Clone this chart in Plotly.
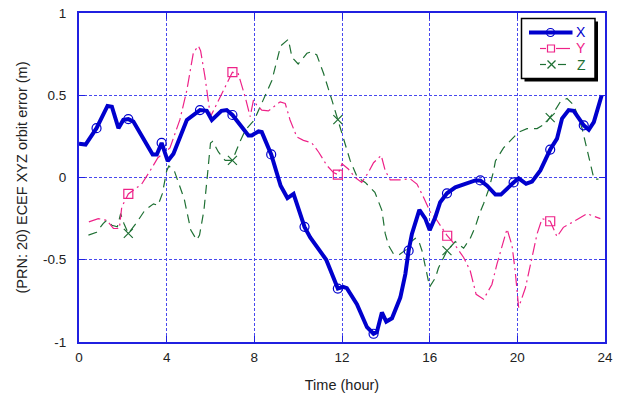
import plotly.graph_objects as go

# ---- ECEF orbit error of PRN 20 over one day (metres) ----
t_x = [0.0, 0.3, 0.8, 1.3, 1.5, 1.8, 2.02, 2.25, 2.48, 3.36, 3.55, 3.77, 4.05, 4.31,
       4.92, 5.52, 5.83, 6.06, 6.5, 6.74, 7.0, 7.35, 7.73, 7.88, 8.19, 8.34, 8.77,
       9.2, 9.51, 9.79, 10.29, 10.55, 11.28, 11.81, 12.05, 12.22, 12.68, 13.14,
       13.44, 13.59, 13.82, 14.02, 14.28, 14.66, 14.89, 15.04, 15.19, 15.53, 15.8,
       16.0, 16.26, 16.48, 16.79, 17.17, 17.7, 18.08, 18.31, 18.62, 19.0, 19.25,
       19.83, 20.06, 20.4, 20.67, 21.05, 21.5, 21.81, 22.04, 22.34, 22.57, 23.03,
       23.26, 23.49, 23.85]
err_x = [0.205, 0.20, 0.30, 0.435, 0.43, 0.30, 0.35, 0.355, 0.34, 0.14, 0.14, 0.21,
         0.10, 0.145, 0.35, 0.41, 0.405, 0.35, 0.405, 0.41, 0.38, 0.317, 0.256, 0.256,
         0.28, 0.276, 0.14, -0.05, -0.125, -0.10, -0.30, -0.364, -0.50, -0.675,
         -0.665, -0.673, -0.77, -0.91, -0.95, -0.94, -0.82, -0.876, -0.856, -0.73,
         -0.587, -0.445, -0.343, -0.197, -0.25, -0.32, -0.24, -0.15, -0.096, -0.06,
         -0.035, -0.018, -0.018, -0.05, -0.104, -0.104, -0.03, -0.005, -0.038,
         -0.025, 0.043, 0.17, 0.236, 0.358, 0.41, 0.405, 0.317, 0.29, 0.337, 0.50]
marks_x = [0.8, 2.25, 3.77, 5.52, 7.0, 8.77, 10.29, 11.81, 13.44, 15.04, 16.79,
           18.31, 19.83, 21.5, 23.03]

t_y = [0.45, 0.88, 1.26, 1.57, 1.84, 1.95, 2.25, 2.86, 3.24, 3.6, 4.15, 4.6, 4.92,
       5.22, 5.45, 5.55, 5.75, 6.0, 7.0, 7.27, 7.58, 7.81, 7.96, 8.11, 8.34, 8.64,
       9.18, 9.41, 9.63, 9.94, 10.24, 10.62, 10.93, 11.31, 11.61, 11.81, 12.0, 12.3,
       12.6, 12.9, 13.2, 13.44, 13.79, 13.97, 14.2, 14.66, 15.11, 15.42, 15.72,
       16.03, 16.33, 16.8, 17.1, 17.55, 17.85, 18.12, 18.46, 18.84, 19.07, 19.53,
       19.76, 19.9, 20.06, 20.37, 20.67, 20.9, 21.13, 21.5, 21.81, 22.1, 22.65,
       23.18, 23.79]
err_y = [-0.27, -0.25, -0.26, -0.31, -0.31, -0.18, -0.10, -0.04, 0.04, 0.12, 0.18,
         0.35, 0.53, 0.76, 0.80, 0.77, 0.61, 0.37, 0.64, 0.63, 0.49, 0.37, 0.47, 0.44,
         0.41, 0.405, 0.46, 0.45, 0.35, 0.246, 0.226, 0.21, 0.155, 0.073, 0.03, 0.018,
         0.083, 0.05, 0.0, -0.03, 0.03, 0.09, 0.134, 0.043, -0.014, -0.014, -0.008,
         -0.04, -0.12, -0.21, -0.26, -0.354, -0.40, -0.486, -0.567, -0.71, -0.74,
         -0.65, -0.526, -0.313, -0.415, -0.567, -0.79, -0.67, -0.486, -0.343, -0.25,
         -0.266, -0.36, -0.303, -0.262, -0.22, -0.25]
marks_y = [2.25, 7.0, 11.81, 16.8, 21.5]

t_z = [0.43, 0.8, 1.1, 1.26, 1.5, 1.75, 1.9, 2.05, 2.25, 2.6, 3.0, 3.4, 3.6, 3.8,
       4.0, 4.1, 4.35, 4.8, 5.1, 5.37, 5.5, 5.7, 5.85, 6.0, 6.1, 6.36, 6.67, 7.0,
       7.35, 7.6, 8.0, 8.4, 8.8, 9.2, 9.55, 9.72, 10.0, 10.4, 10.62, 10.85, 11.16,
       11.54, 11.81, 12.07, 12.37, 12.7, 13.06, 13.5, 13.66, 13.82, 13.97, 14.13,
       14.35, 14.6, 14.96, 15.15, 15.35, 15.5, 15.65, 15.78, 15.9, 16.0, 16.26,
       16.4, 16.79, 17.17, 17.55, 17.85, 18.08, 18.3, 18.46, 18.7, 18.9, 19.0,
       19.37, 19.68, 20.06, 20.44, 20.9, 21.28, 21.5, 21.73, 21.96, 22.27, 22.57,
       22.72, 22.95, 23.1, 23.26, 23.4, 23.5, 23.7]
err_z = [-0.35, -0.333, -0.28, -0.26, -0.29, -0.30, -0.22, -0.28, -0.34, -0.28,
         -0.20, -0.16, -0.17, -0.10, 0.04, 0.07, 0.04, -0.13, -0.32, -0.38, -0.35,
         -0.20, 0.0, 0.21, 0.22, 0.155, 0.104, 0.104, 0.22, 0.29, 0.35, 0.47, 0.59,
         0.80, 0.84, 0.73, 0.69, 0.755, 0.765, 0.745, 0.632, 0.47, 0.352, 0.246,
         0.104, 0.0, -0.03, -0.09, -0.14, -0.20, -0.34, -0.415, -0.465, -0.47,
         -0.435, -0.39, -0.37, -0.385, -0.445, -0.53, -0.60, -0.665, -0.61, -0.55,
         -0.445, -0.39, -0.43, -0.37, -0.30, -0.21, -0.16, -0.07, 0.03, 0.10, 0.18,
         0.226, 0.276, 0.297, 0.297, 0.327, 0.364, 0.41, 0.46, 0.48, 0.44, 0.39,
         0.30, 0.215, 0.12, 0.04, -0.01, -0.01]
marks_z = [2.25, 7.0, 11.81, 16.79, 21.5]

x_ticks = [0, 4, 8, 12, 16, 20, 24]
y_ticks = [-1, -0.5, 0, 0.5, 1]
y_tick_text = ["-1", "-0.5", "0", "0.5", "1"]

BLUE = "#0000cd"
PINK = "#ee2288"
GREEN = "#1f7034"
FRAME = "#2020e0"
GRID = "#4848ee"
FONT = "Liberation Sans, Arial, sans-serif"

W, H = 622, 394
L, R, T, B = 79, 17, 13, 52


def marked(ts, vs, marks):
    pts = [(t, v) for t, v in zip(ts, vs) if t in marks]
    return [p[0] for p in pts], [p[1] for p in pts]


fig = go.Figure()

series = [
    ("X", t_x, err_x, marks_x, BLUE, 4, "solid", "circle-open", 9),
    ("Y", t_y, err_y, marks_y, PINK, 1.2, "12px,4px,2px,4px", "square-open", 9),
    ("Z", t_z, err_z, marks_z, GREEN, 1.2, "9px,6px", "x-thin-open", 9),
]

# Draw Z first, then Y, then X on top
for name, ts, vs, marks, color, lw, dash, sym, ms in reversed(series):
    fig.add_trace(go.Scatter(
        x=ts, y=vs, mode="lines", name=name, showlegend=False,
        line=dict(color=color, width=lw, dash=dash),
    ))
    mx, my = marked(ts, vs, marks)
    fig.add_trace(go.Scatter(
        x=mx, y=my, mode="markers", showlegend=False,
        marker=dict(symbol=sym, size=ms, color=color,
                    line=dict(color=color, width=1.2)),
    ))

fig.update_layout(
    width=W, height=H,
    margin=dict(l=L, r=R, t=T, b=B, autoexpand=False),
    paper_bgcolor="white", plot_bgcolor="white",
    font=dict(family=FONT, size=14, color="#222222"),
)

fig.update_xaxes(
    range=[0, 24], tickvals=x_ticks, ticktext=[str(v) for v in x_ticks],
    showgrid=True, gridcolor=GRID, gridwidth=1, griddash="3px,2px",
    showline=True, linecolor=FRAME, linewidth=2, mirror="ticks",
    ticks="inside", ticklen=6, tickcolor=FRAME, tickwidth=1,
    zeroline=False, tickfont=dict(size=13.5), ticklabelstandoff=2,
    automargin=False,
    title=dict(text="Time (hour)", font=dict(size=14.5), standoff=16),
)
fig.update_yaxes(
    range=[-1, 1], tickvals=y_ticks, ticktext=y_tick_text,
    showgrid=True, gridcolor=GRID, gridwidth=1, griddash="3px,2px",
    showline=True, linecolor=FRAME, linewidth=2, mirror="ticks",
    ticks="inside", ticklen=6, tickcolor=FRAME, tickwidth=1,
    zeroline=False, tickfont=dict(size=13.5), ticklabelstandoff=8,
    automargin=False,
    title=dict(text="(PRN: 20) ECEF XYZ orbit error (m)", font=dict(size=14.5),
               standoff=12),
)

# ---- key box with drop shadow (pixel layout converted to paper units) ----
PW, PH = W - L - R, H - T - B


def px(x):
    return (x - L) / PW


def py(y):
    return (H - B - y) / PH


shapes = []
box = (521.5, 18.5, 595, 78.5)
shadow = 3
shapes.append(dict(type="rect", xref="paper", yref="paper",
                   x0=px(box[0] + shadow), x1=px(box[2] + shadow),
                   y0=py(box[1] + shadow), y1=py(box[3] + shadow),
                   fillcolor="black", line=dict(width=0), layer="above"))
shapes.append(dict(type="rect", xref="paper", yref="paper",
                   x0=px(box[0]), x1=px(box[2]), y0=py(box[1]), y1=py(box[3]),
                   fillcolor="white", line=dict(color="black", width=1.5),
                   layer="above"))

rows = [32.5, 48.5, 64.5]
# X: thick solid line with circle
shapes.append(dict(type="line", xref="paper", yref="paper",
                   x0=px(529), x1=px(572.5), y0=py(rows[0]), y1=py(rows[0]),
                   line=dict(color=BLUE, width=4), layer="above"))
shapes.append(dict(type="circle", xref="paper", yref="paper",
                   x0=px(546.5), x1=px(554.5), y0=py(rows[0] - 4), y1=py(rows[0] + 4),
                   line=dict(color=BLUE, width=1.2), fillcolor="rgba(0,0,0,0)",
                   layer="above"))
# Y: dash, square, dash
for a, b in [(540, 546), (556, 570)]:
    shapes.append(dict(type="line", xref="paper", yref="paper",
                       x0=px(a), x1=px(b), y0=py(rows[1]), y1=py(rows[1]),
                       line=dict(color=PINK, width=1.2), layer="above"))
shapes.append(dict(type="rect", xref="paper", yref="paper",
                   x0=px(547.5), x1=px(554.5), y0=py(rows[1] - 3.5), y1=py(rows[1] + 3.5),
                   line=dict(color=PINK, width=1.2), fillcolor="rgba(0,0,0,0)",
                   layer="above"))
# Z: dash, cross, dash
for a, b in [(540, 546), (558, 566)]:
    shapes.append(dict(type="line", xref="paper", yref="paper",
                       x0=px(a), x1=px(b), y0=py(rows[2]), y1=py(rows[2]),
                       line=dict(color=GREEN, width=1.2), layer="above"))
for d in (1, -1):
    shapes.append(dict(type="line", xref="paper", yref="paper",
                       x0=px(547.5), x1=px(555.5),
                       y0=py(rows[2] - 4 * d), y1=py(rows[2] + 4 * d),
                       line=dict(color=GREEN, width=1.2), layer="above"))

annotations = []
for (name, color), yy in zip([("X", BLUE), ("Y", PINK), ("Z", GREEN)], rows):
    annotations.append(dict(xref="paper", yref="paper", x=px(581), y=py(yy),
                            text=name, showarrow=False, xanchor="center",
                            yanchor="middle", borderpad=0,
                            font=dict(family=FONT, size=14, color=color)))

fig.update_layout(shapes=shapes, annotations=annotations)

fig.write_html("out.html")
